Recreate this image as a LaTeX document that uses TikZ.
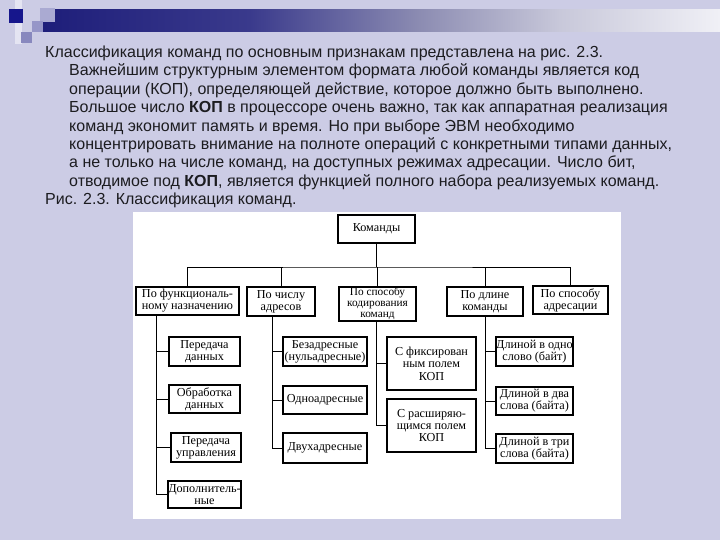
\documentclass[tikz,border=0pt]{standalone}
\usepackage{fontspec}
\setmainfont{Liberation Sans}
\newfontfamily\diagfont{Liberation Serif}
\definecolor{bgcol}{RGB}{204,204,229}
\definecolor{txtcol}{RGB}{28,28,32}
\definecolor{navyA}{RGB}{30,30,122}
\definecolor{navyB}{RGB}{58,58,140}
\definecolor{navyC}{RGB}{140,140,178}
\definecolor{navyD}{RGB}{200,200,218}
\definecolor{navyE}{RGB}{240,240,246}
\definecolor{sqdark}{RGB}{22,22,140}
\definecolor{sqlight}{RGB}{170,170,210}
\definecolor{sqmid}{RGB}{150,150,200}
\definecolor{sqmid2}{RGB}{136,136,190}
\definecolor{stripcol}{RGB}{228,228,242}
\begin{document}
\begin{tikzpicture}[x=1pt,y=-1pt,
  box/.style={draw=black, line width=1.8pt, fill=white, inner sep=0pt, align=center,
    font=\diagfont\fontsize{12.2}{12}\selectfont},
  conn/.style={draw=black, line width=0.9pt},
  txtline/.style={anchor=base west, inner sep=0pt, text=txtcol,
    font=\fontsize{16}{18}\selectfont}]
\useasboundingbox (0,0) rectangle (720,540);
\fill[bgcol] (0,0) rectangle (720,540);
% top decoration
\fill[stripcol] (15,0) rectangle (22,44);
\shade[left color=navyA, right color=navyB] (43,10) rectangle (250,32);
\shade[left color=navyB, right color=navyC] (249.5,10) rectangle (420,32);
\shade[left color=navyC, right color=navyD] (419.5,10) rectangle (560,32);
\shade[left color=navyD, right color=navyE] (559.5,10) rectangle (720,32);
\fill[sqdark] (9,9) rectangle (23,23);
\fill[sqlight] (40,8) rectangle (55,22);
\fill[sqmid] (32,21) rectangle (43,32);
\fill[sqmid2] (21,32) rectangle (32,43);
% text
\node[txtline] (t1) at (45,57.5) {Классификация команд по основным признакам представлена на рис. 2.3.};
\node[txtline] (t2) at (69,75.9) {Важнейшим структурным элементом формата любой команды является код};
\node[txtline] (t3) at (69,94.3) {операции (КОП), определяющей действие, которое должно быть выполнено.};
\node[txtline] (t4) at (69,112.7) {Большое число \textbf{КОП} в процессоре очень важно, так как аппаратная реализация};
\node[txtline] (t5) at (69,131.1) {команд экономит память и время. Но при выборе ЭВМ необходимо};
\node[txtline] (t6) at (69,149.5) {концентрировать внимание на полноте операций с конкретными типами данных,};
\node[txtline] (t7) at (69,167.9) {а не только на числе команд, на доступных режимах адресации. Число бит,};
\node[txtline] (t8) at (69,186.3) {отводимое под \textbf{КОП}, является функцией полного набора реализуемых команд.};
\node[txtline] (t9) at (45,204.7) {Рис. 2.3. Классификация команд.};
% diagram area
\fill[white] (133,212) rectangle (621,519);
% boxes
\node[box, minimum width=77pt, minimum height=28pt] (cmd) at (376.5,229) {Команды};
\node[box, minimum width=103pt, minimum height=28pt] (fn) at (187.5,301) {По функциональ-\\ному  назначению};
\node[box, minimum width=68pt, minimum height=29pt] (num) at (281,301.5) {По числу\\адресов};
\node[box, minimum width=77pt, minimum height=34pt, font=\diagfont\fontsize{11.3}{11}\selectfont] (cod) at (377.5,304) {По способу\\кодирования\\команд};
\node[box, minimum width=76pt, minimum height=29pt] (len) at (485,301.5) {По длине\\команды};
\node[box, minimum width=75pt, minimum height=28pt] (adr) at (570.5,300) {По способу\\адресации};
\node[box, minimum width=71pt, minimum height=29pt] (f1) at (204.5,351.5) {Передача\\данных};
\node[box, minimum width=71pt, minimum height=28pt] (f2) at (204.5,399) {Обработка\\данных};
\node[box, minimum width=70pt, minimum height=29pt] (f3) at (206,447.5) {Передача\\управления};
\node[box, minimum width=71pt, minimum height=27pt] (f4) at (204.5,494.5) {Дополнитель-\\ные};
\node[box, minimum width=84pt, minimum height=29pt] (n1) at (325,351.5) {Безадресные\\(нульадресные)};
\node[box, minimum width=84pt, minimum height=28pt] (n2) at (325,400) {Одноадресные};
\node[box, minimum width=84pt, minimum height=30pt] (n3) at (325,448) {Двухадресные};
\node[box, minimum width=89pt, minimum height=53pt, font=\diagfont\fontsize{12.2}{12.5}\selectfont] (c1) at (431.5,363.5) {С фиксирован\\ным полем\\КОП};
\node[box, minimum width=89pt, minimum height=53pt, font=\diagfont\fontsize{12.2}{12}\selectfont] (c2) at (431.5,425.5) {С расширяю-\\щимся полем\\КОП};
\node[box, minimum width=77pt, minimum height=29pt] (l1) at (534.5,351.5) {Длиной в одно\\слово (байт)};
\node[box, minimum width=77pt, minimum height=28pt] (l2) at (534.5,401) {Длиной в два\\слова (байта)};
\node[box, minimum width=77pt, minimum height=29pt] (l3) at (534.5,448.5) {Длиной в три\\слова (байта)};
% connectors
\coordinate (hb) at (376.5,267);
\draw[conn] (cmd.south) -- (hb);
\draw[conn] (fn.north) |- (hb) -| (adr.north);
\draw[conn] (num.north) -- (num.north |- hb);
\draw[conn] (cod.north) -- (cod.north |- hb);
\draw[conn] (len.north) -- (len.north |- hb);
\coordinate (fv) at ([xshift=-31.5pt]fn.south);
\draw[conn] (fv) |- (f4.west);
\draw[conn] (f1.west) -- (f1.west -| fv);
\draw[conn] (f2.west) -- (f2.west -| fv);
\draw[conn] (f3.west) -- (f3.west -| fv);
\coordinate (nv) at ([xshift=-9pt]num.south);
\draw[conn] (nv) |- (n3.west);
\draw[conn] (n1.west) -- (n1.west -| nv);
\draw[conn] (n2.west) -- (n2.west -| nv);
\coordinate (cv) at ([xshift=-1.5pt]cod.south);
\draw[conn] (cv) |- (c2.west);
\draw[conn] (c1.west) -- (c1.west -| cv);
\draw[conn] (len.south) |- (l3.west);
\draw[conn] (l1.west) -- (l1.west -| len.south);
\draw[conn] (l2.west) -- (l2.west -| len.south);
\end{tikzpicture}
\end{document}
